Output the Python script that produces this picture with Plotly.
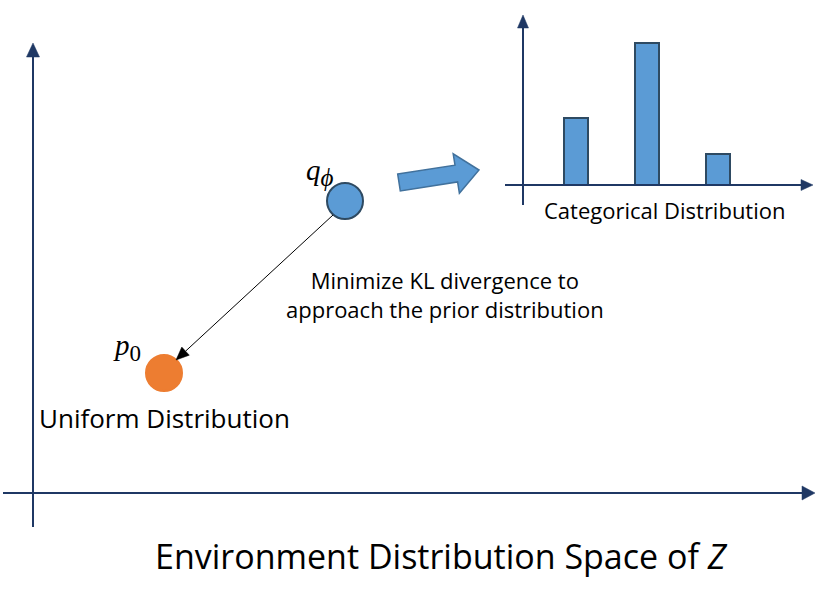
import math
import plotly.graph_objects as go

W, H = 830, 605
# where the two big axes cross, in page pixels
OX, OY = 33, 493

AXIS_COLOR = "#1f3864"
BLUE = "#5b9bd5"
ORANGE = "#ed7d31"

# two distributions placed in the Z space (units = px from the origin)
dist_labels = ["<i>q</i><sub><span style='font-size:25px'><i>ϕ</i></span></sub>",
               "<i>p</i><sub><span style='font-size:23px'>0</span></sub>"]
dist_x = [312, 131]
dist_y = [292, 120]
dist_fill = [BLUE, ORANGE]
dist_edge = ["#2e4a62", ORANGE]

# categorical distribution shown in the inset
cat_pos = [1, 2, 3]
cat_probs = [0.28, 0.59, 0.13]

# inset placement (main-space units)
INS_X0, INS_Y0 = 490, 308      # inset axes crossing
INS_FIRST = 53                 # first bar centre, px right of the inset y axis
INS_UNIT_X = 71                # px per category
INS_UNIT_Y = 241               # px per probability unit


def tri_path(x, y, dx, dy, length, width):
    """filled triangle arrow head with its tip at (x, y) pointing along (dx, dy)"""
    n = math.hypot(dx, dy)
    ux, uy = dx / n, dy / n
    bx, by = x - ux * length, y - uy * length
    px, py = -uy * width / 2, ux * width / 2
    return f"M{x},{y} L{bx + px:.1f},{by + py:.1f} L{bx - px:.1f},{by - py:.1f} Z"


def block_arrow(x0, y0, x1, y1, shaft_w, head_w, head_len):
    n = math.hypot(x1 - x0, y1 - y0)
    ux, uy = (x1 - x0) / n, (y1 - y0) / n
    px, py = -uy, ux
    hx, hy = x1 - ux * head_len, y1 - uy * head_len
    pts = [
        (x0 + px * shaft_w / 2, y0 + py * shaft_w / 2),
        (hx + px * shaft_w / 2, hy + py * shaft_w / 2),
        (hx + px * head_w / 2, hy + py * head_w / 2),
        (x1, y1),
        (hx - px * head_w / 2, hy - py * head_w / 2),
        (hx - px * shaft_w / 2, hy - py * shaft_w / 2),
        (x0 - px * shaft_w / 2, y0 - py * shaft_w / 2),
    ]
    return "M" + " L".join(f"{a:.1f},{b:.1f}" for a, b in pts) + " Z"


def axis_arrow(x0, y0, x1, y1, head_len, head_w, lw=2, color=AXIS_COLOR):
    n = math.hypot(x1 - x0, y1 - y0)
    ex = x1 - (x1 - x0) / n * head_len
    ey = y1 - (y1 - y0) / n * head_len
    return [
        dict(type="line", x0=x0, y0=y0, x1=ex, y1=ey, xref="x", yref="y",
             line=dict(color=color, width=lw)),
        dict(type="path", path=tri_path(x1, y1, x1 - x0, y1 - y0, head_len, head_w),
             xref="x", yref="y", fillcolor=color, line=dict(color=color, width=0.5)),
    ]


fig = go.Figure()

# the two distributions
fig.add_trace(go.Scatter(
    x=dist_x, y=dist_y, mode="markers",
    marker=dict(size=36, color=dist_fill, line=dict(color=dist_edge, width=2)),
    hoverinfo="skip", showlegend=False, xaxis="x", yaxis="y",
))

# inset bars
fig.add_trace(go.Bar(
    x=cat_pos, y=cat_probs, width=24 / INS_UNIT_X,
    marker=dict(color=BLUE, line=dict(color="#2e4a62", width=2)),
    hoverinfo="skip", showlegend=False, xaxis="x2", yaxis="y2",
))

shapes = []
# big axes
shapes += axis_arrow(-30, 0, 782, 0, 13, 14)
shapes += axis_arrow(0, -34, 0, 450, 14, 13)
# inset axes
shapes += axis_arrow(INS_X0 - 18, INS_Y0, 780, INS_Y0, 12, 11)
shapes += axis_arrow(INS_X0, INS_Y0 - 20, INS_X0, 478, 13, 11)
# thin arrow q_phi -> p_0
shapes += axis_arrow(300, 278, 143, 133, 13, 11, lw=1, color="black")
# block arrow q_phi -> categorical
shapes.append(dict(type="path", path=block_arrow(366, 310.5, 446, 323, 17, 40, 23),
                   xref="x", yref="y", fillcolor=BLUE, line=dict(color="#41719c", width=1.5)))

text_font = dict(family="Open Sans, sans-serif", color="black")
math_font = dict(family="Liberation Serif, serif", color="black", size=29)

annotations = [
    dict(x=287, y=321, xref="x", yref="y", text=dist_labels[0], showarrow=False, font=math_font),
    dict(x=94, y=146, xref="x", yref="y", text=dist_labels[1], showarrow=False, font=math_font),
    dict(x=131, y=75, xref="x", yref="y", text="Uniform Distribution", showarrow=False,
         font=dict(text_font, size=26)),
    dict(x=412, y=199, xref="x", yref="y",
         text="Minimize KL divergence to<br>approach the prior distribution",
         showarrow=False, font=dict(text_font, size=22)),
    dict(x=632, y=283, xref="x", yref="y", text="Categorical Distribution", showarrow=False,
         font=dict(text_font, size=22)),
    dict(x=408, y=-63, xref="x", yref="y",
         text="Environment Distribution Space of <i>Z</i>", showarrow=False,
         font=dict(text_font, size=34)),
]

# inset axes domains from its placement in the page
ins_left_px = OX + INS_X0 - 18
ins_right_px = OX + 780
ins_bottom_px = OY - (INS_Y0 - 20)
ins_top_px = OY - 478
first_px = OX + INS_X0 + INS_FIRST
x2_lo = cat_pos[0] - (first_px - ins_left_px) / INS_UNIT_X
x2_hi = cat_pos[0] + (ins_right_px - first_px) / INS_UNIT_X
y2_lo = -20 / INS_UNIT_Y
y2_hi = (ins_bottom_px - ins_top_px - 20) / INS_UNIT_Y

hidden = dict(visible=False, showgrid=False, zeroline=False, fixedrange=True)

fig.update_layout(
    width=W, height=H,
    margin=dict(l=0, r=0, t=0, b=0),
    paper_bgcolor="white", plot_bgcolor="rgba(0,0,0,0)",
    xaxis=dict(hidden, range=[-OX, W - OX], domain=[0, 1]),
    yaxis=dict(hidden, range=[OY - H, OY], domain=[0, 1]),
    xaxis2=dict(hidden, range=[x2_lo, x2_hi],
                domain=[ins_left_px / W, ins_right_px / W], anchor="y2"),
    yaxis2=dict(hidden, range=[y2_lo, y2_hi],
                domain=[1 - ins_bottom_px / H, 1 - ins_top_px / H], anchor="x2"),
    shapes=shapes,
    annotations=annotations,
    bargap=0,
)

# drop the page's default body margin so the figure sits at the top-left corner
fig.write_html("out.html", config={"displayModeBar": False},
               post_script="document.body.style.margin='0';")
